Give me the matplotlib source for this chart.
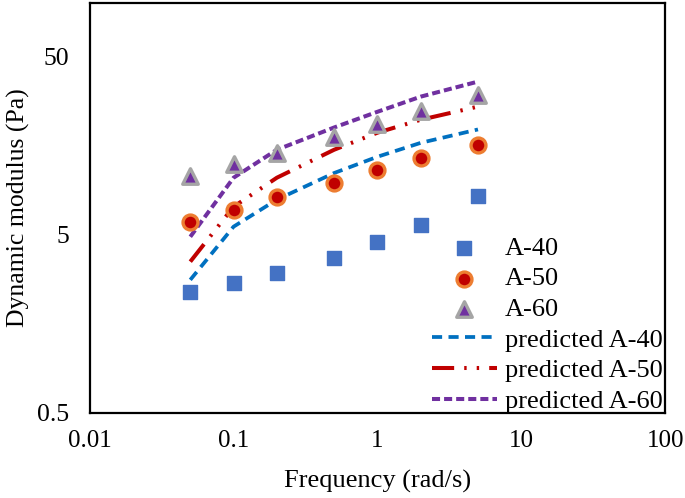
import matplotlib
matplotlib.use("Agg")
import matplotlib.pyplot as plt
from matplotlib.ticker import FixedLocator, NullLocator

plt.rcParams['font.family'] = 'Liberation Serif'

# frequency (rad/s)
freq = [0.05, 0.1, 0.2, 0.5, 1, 2, 5]

# measured dynamic modulus (Pa)
a40 = [2.39, 2.69, 3.06, 3.71, 4.57, 5.69, 8.28]
a50 = [5.92, 6.9, 8.18, 9.8, 11.6, 13.5, 16.0]
a60 = [10.7, 12.4, 14.3, 17.8, 21.0, 24.9, 30.6]

# model predictions
pred40 = [2.79, 5.55, 7.87, 11.1, 13.7, 16.4, 19.5]
pred50 = [3.53, 7.18, 10.45, 15.0, 18.7, 22.1, 26.2]
pred60 = [4.87, 10.45, 15.0, 20.0, 24.5, 29.8, 36.2]

x_ticks = [0.01, 0.1, 1, 10, 100]
x_tick_labels = ['0.01', '0.1', '1', '10', '100']
y_ticks = [0.5, 5, 50]
y_tick_labels = ['0.5', '5', '50']

fig = plt.figure(figsize=(6.85, 4.98), dpi=100)
ax = fig.add_axes([0.131, 0.171, 0.84, 0.823])

ax.set_xscale('log')
ax.set_yscale('log')

ax.scatter(freq, a40, marker='s', s=115, color='#4472C4', label='A-40', zorder=3)
ax.scatter(freq, a50, marker='o', s=115, facecolor='#C00000', edgecolor='#ED7D31',
           linewidth=2.4, label='A-50', zorder=3)
ax.scatter(freq, a60, marker='^', s=125, facecolor='#7030A0', edgecolor='#A5A5A5',
           linewidth=2.4, label='A-60', zorder=3)

ax.plot(freq, pred40, color='#0070C0', linewidth=2.7, dashes=(2.7, 1.7),
        label='predicted A-40')
ax.plot(freq, pred50, color='#C00000', linewidth=2.9, dashes=(5.5, 2.5, 0.6, 2.5, 0.6, 2.5),
        label='predicted A-50')
ax.plot(freq, pred60, color='#7030A0', linewidth=2.9, dashes=(2.0, 1.0),
        label='predicted A-60')

ax.set_xlim(0.01, 100)
ax.set_ylim(0.5, 100)
ax.xaxis.set_major_locator(FixedLocator(x_ticks))
ax.xaxis.set_minor_locator(NullLocator())
ax.set_xticklabels(x_tick_labels)
ax.yaxis.set_major_locator(FixedLocator(y_ticks))
ax.yaxis.set_minor_locator(NullLocator())
ax.set_yticklabels(y_tick_labels)
ax.tick_params(axis='x', length=0, labelsize=18, pad=12)
ax.tick_params(axis='y', length=0, labelsize=18.5, pad=15)

for s in ax.spines.values():
    s.set_linewidth(1.6)
    s.set_color('black')

ax.set_xlabel('Frequency (rad/s)', fontsize=19, labelpad=13)
ax.set_ylabel('Dynamic modulus (Pa)', fontsize=18.5, labelpad=5)

ax.legend(loc='lower left', bbox_to_anchor=(0.595, 0.0), frameon=False,
          fontsize=19, handlelength=2.45, handletextpad=0.3, labelspacing=0.27,
          borderaxespad=0, borderpad=0)

fig.savefig('out.png', dpi=100)
